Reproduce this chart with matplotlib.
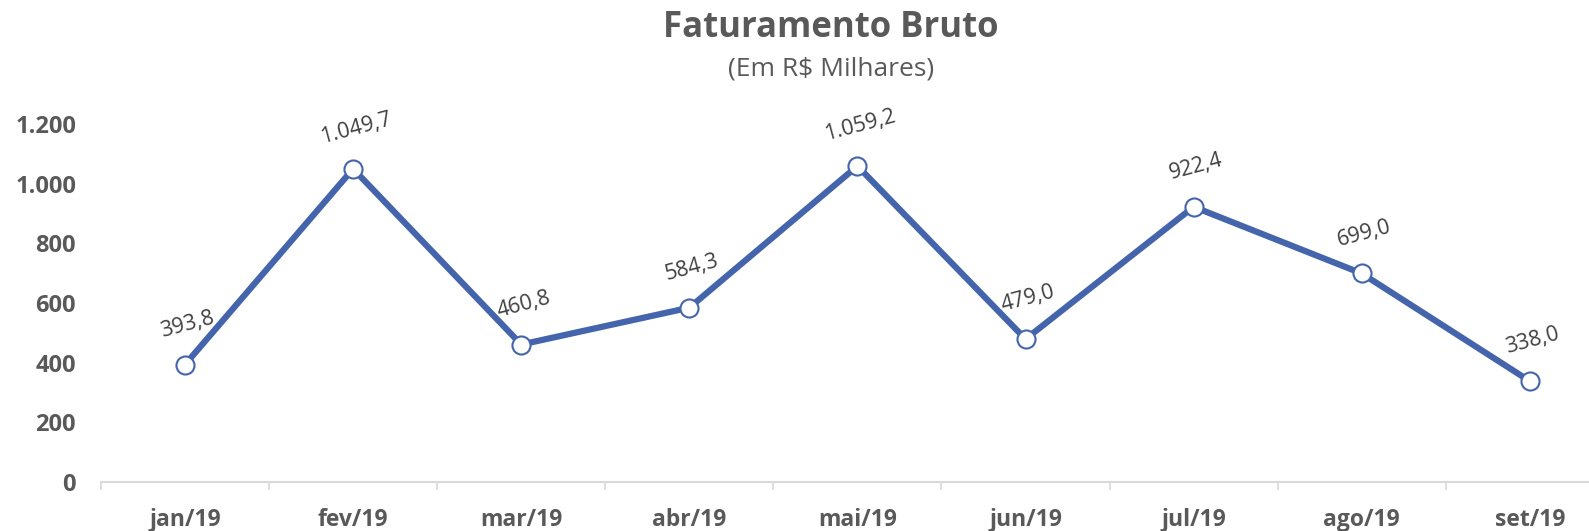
import matplotlib
matplotlib.use("Agg")
import matplotlib.pyplot as plt
import numpy as np

# data
meses = ["jan/19", "fev/19", "mar/19", "abr/19", "mai/19", "jun/19", "jul/19", "ago/19", "set/19"]
faturamento = [393.8, 1049.7, 460.8, 584.3, 1059.2, 479.0, 922.4, 699.0, 338.0]
yticks = [0, 200, 400, 600, 800, 1000, 1200]

plt.rcParams["font.family"] = ["Open Sans", "DejaVu Sans"]
GRAY = "#595959"
BLUE = "#4464ac"


def fmt_br(v, dec=1):
    s = f"{v:,.{dec}f}"
    return s.replace(",", "X").replace(".", ",").replace("X", ".")


fig = plt.figure(figsize=(15.89, 5.31), dpi=100)
ax = fig.add_axes([101 / 1589, 49 / 531, 9 * 168.1 / 1589, 358 / 531])

x = np.arange(len(meses)) + 0.5
ax.plot(x, faturamento, color=BLUE, lw=4.5, marker="o", markersize=13,
        markerfacecolor="white", markeredgecolor=BLUE, markeredgewidth=1.5,
        clip_on=False, zorder=3)

for xi, v in zip(x, faturamento):
    ax.annotate(fmt_br(v), (xi, v), xytext=(2, 29), textcoords="offset points",
                ha="center", va="center", rotation=15, fontsize=15.5, color="#404040")

ax.set_xlim(0, len(meses))
ax.set_ylim(0, 1200)
ax.set_yticks(yticks)
ax.set_yticklabels([fmt_br(t, 0) for t in yticks], fontsize=17, fontweight="bold", color=GRAY)
ax.set_xticks(x)
ax.set_xticklabels(meses, fontsize=16.5, fontweight="bold", color=GRAY)
ax.set_xticks(np.arange(len(meses) + 1), minor=True)
ax.tick_params(axis="x", which="major", length=0, pad=19)
ax.tick_params(axis="x", which="minor", length=6, color="#d9d9d9", width=1.2)
ax.tick_params(axis="y", length=0, pad=18)

for side in ["top", "right", "left"]:
    ax.spines[side].set_visible(False)
ax.spines["bottom"].set_color("#d9d9d9")
ax.spines["bottom"].set_linewidth(1.5)

fig.text(0.523, 1 - 28 / 531, "Faturamento Bruto", ha="center", va="center",
         fontsize=25, fontweight="bold", color=GRAY)
fig.text(0.523, 1 - 69 / 531, "(Em R$ Milhares)", ha="center", va="center",
         fontsize=19, color=GRAY)

fig.savefig("out.png", dpi=100)
